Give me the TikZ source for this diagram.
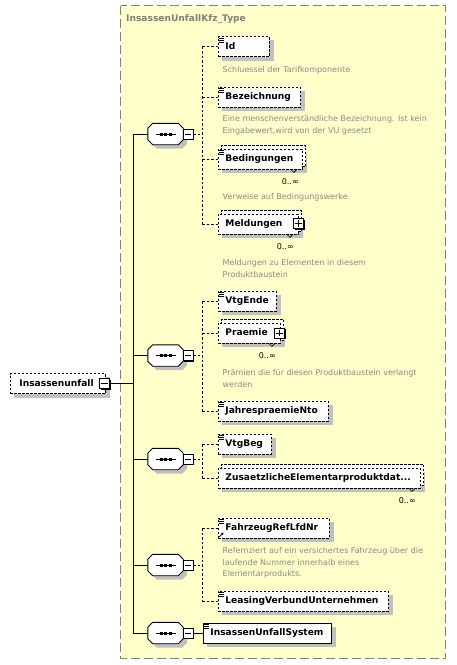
\documentclass[tikz,border=0pt]{standalone}
\usepackage{fontspec}
\setmainfont{DejaVu Sans}
\usetikzlibrary{arrows.meta}
\definecolor{typefill}{RGB}{255,255,202}
\definecolor{shadowgray}{RGB}{192,192,192}
\definecolor{descgray}{RGB}{138,138,138}
\definecolor{framegray}{RGB}{128,128,128}
\pgfdeclarelayer{yellowl}
\pgfdeclarelayer{shadowl}
\pgfdeclarelayer{backl}
\pgfsetlayers{yellowl,shadowl,backl,main}
\newcommand\namefont{\bfseries\fontsize{9.1}{11}\selectfont}
\newcommand\descfont{\fontsize{8}{11.8}\selectfont}
\tikzset{
  elembox/.style={draw, dash pattern=on 2.4pt off 1.6pt, line width=0.9pt, fill=white,
     minimum height=20pt, inner xsep=7pt, inner ysep=0pt, anchor=west, font=\namefont, align=left,
     text height=6.8pt, text depth=1.8pt,
     execute at begin node={\hyphenpenalty=10000\exhyphenpenalty=10000}},
  solidbox/.style={elembox, solid},
  backbox/.style={draw, dash pattern=on 2.4pt off 1.6pt, line width=0.9pt, fill=white},
  pmbox/.style={draw, line width=0.8pt, fill=white, minimum size=10pt, inner sep=0pt},
  seqframe/.style={draw=none, minimum width=35pt, minimum height=21pt, inner sep=0pt},
  conn/.style={dash pattern=on 2.5pt off 2pt, line width=0.8pt},
  link/.style={line width=0.9pt},
  desc/.style={anchor=north west, inner sep=0pt, font=\descfont, text=descgray, align=left},
  mult/.style={anchor=base east, inner sep=0pt, font=\fontsize{8}{10}\selectfont},
}
\newcommand\shadowof[1]{\begin{pgfonlayer}{shadowl}\fill[shadowgray] ([xshift=4pt,yshift=-4pt]#1.south west) rectangle ([xshift=4pt,yshift=-4pt]#1.north east);\end{pgfonlayer}}
\newcommand\backof[1]{\begin{pgfonlayer}{backl}\draw[backbox] ([xshift=3pt,yshift=3pt]#1.south west) rectangle ([xshift=3pt,yshift=3pt]#1.north east);\end{pgfonlayer}}
\newcommand\iconof[1]{\foreach \d in {1.8pt,3.8pt,5.8pt}{\draw[line width=0.7pt] ([xshift=0.5pt,yshift=-\d]#1.north west) -- ++(5,0);}}
\newcommand\tickof[1]{\draw[line width=0.6pt] ([xshift=-12pt]#1.south east) -- ([xshift=-9pt,yshift=-3pt]#1.south east) -- ([xshift=-6pt]#1.south east);}
\newcommand\pmminus[3]{\fill[shift={(#2,#3)}] (-4,-4) rectangle (6,6);
  \node[pmbox] (#1) at (#2,#3) {};
  \draw[line width=0.9pt] ([xshift=2pt]#1.west) -- ([xshift=-2pt]#1.east);}
\newcommand\pmplus[3]{\pmminus{#1}{#2}{#3}\draw[line width=0.9pt] ([yshift=-2pt]#1.north) -- ([yshift=2pt]#1.south);}
\newcommand\octpath[3]{([xshift={#2+5pt},yshift={#3}]#1.north west) -- ([xshift={#2-5pt},yshift={#3}]#1.north east) -- ([xshift={#2},yshift={#3-5pt}]#1.north east) -- ([xshift={#2},yshift={#3+5pt}]#1.south east) -- ([xshift={#2-5pt},yshift={#3}]#1.south east) -- ([xshift={#2+5pt},yshift={#3}]#1.south west) -- ([xshift={#2},yshift={#3+5pt}]#1.south west) -- ([xshift={#2},yshift={#3-5pt}]#1.north west) -- cycle}
\newcommand\seqgroup[3]{\node[seqframe] (#1) at (165.5,#3) {};
  \begin{pgfonlayer}{shadowl}\fill[shadowgray] \octpath{#1}{4pt}{-4pt};\end{pgfonlayer}
  \draw[link] (#1.west -| spinetop) -- (#1.west);
  \draw[link, fill=white] \octpath{#1}{0pt}{0pt};
  \draw[link] ([xshift=-10pt]#1.center) -- ([xshift=10pt]#1.center);
  \fill ([xshift=-6pt,yshift=-1.5pt]#1.center) rectangle ([xshift=-3pt,yshift=1.5pt]#1.center);
  \fill ([xshift=-1.5pt,yshift=-1.5pt]#1.center) rectangle ([xshift=1.5pt,yshift=1.5pt]#1.center);
  \fill ([xshift=3pt,yshift=-1.5pt]#1.center) rectangle ([xshift=6pt,yshift=1.5pt]#1.center);
  \pmminus{#2}{188}{#3}}
\begin{document}
\begin{tikzpicture}[x=1pt,y=-1pt]
\useasboundingbox (0,0) rectangle (456,665);
\begin{pgfonlayer}{yellowl}
\fill[white] (0,0) rectangle (456,665);
\draw[fill=typefill, draw=framegray, line width=1pt, dash pattern=on 9pt off 4pt] (120.5,5.5) rectangle (445.5,658.5);
\end{pgfonlayer}
\node[anchor=base west, inner sep=0pt, font=\namefont, text=framegray] (title) at (126,21.7) {InsassenUnfallKfz\_Type};

% root
\node[elembox, inner xsep=9pt, text width=77pt] (root) at (10,383.5) {Insassenunfall};
\shadowof{root}
\pmminus{rm}{104.5}{383.5}
\coordinate (spinetop) at (133,134);
\coordinate (spinebot) at (133,633);
\coordinate (jx) at (202,0);
\draw[link] (spinetop) -- (spinebot);
\draw[link] (rm.east) -- (rm.east -| spinetop);

% group 1
\seqgroup{s1}{m1}{134}
\node[elembox, text width=37pt] (id) at (218,46.5) {Id}; \shadowof{id}\iconof{id}
\node[desc] (iddesc) at (222.5,66) {Schluessel der Tarifkomponente};
\node[elembox, text width=68pt] (bez) at (218,97) {Bezeichnung}; \shadowof{bez}\iconof{bez}
\node[desc] (bezdesc) at (222.5,115) {Eine menschenverständliche Bezeichnung. Ist kein\\Eingabewert,wird von der VU gesetzt};
\node[elembox, text width=70pt] (bed) at (218,159) {Bedingungen}; \shadowof{bed}\backof{bed}\iconof{bed}\tickof{bed}
\node[mult] (bedmult) at ([xshift=-4pt,yshift=-15.5pt]bed.south east) {0..∞};
\node[desc] (beddesc) at (222.5,193) {Verweise auf Bedingungswerke};
\node[elembox, text width=66pt] (mel) at (218,224) {Meldungen}; \shadowof{mel}\backof{mel}\tickof{mel}
\pmplus{melp}{298.5}{223.5}
\node[mult] (melmult) at ([xshift=-5pt,yshift=-15.5pt]mel.south east) {0..∞};
\node[desc] (meldesc) at (222.5,259) {Meldungen zu Elementen in diesem\\Produktbaustein};
\draw[conn] (m1.east) -- (m1.east -| jx);
\draw[conn] (id.west -| jx) -- (mel.west -| jx);
\foreach \n in {id,bez,bed,mel}{\draw[conn] (\n.west -| jx) -- (\n.west);}

% group 2
\seqgroup{s2}{m2}{355.5}
\node[elembox, text width=44pt] (vte) at (218,301) {VtgEnde}; \shadowof{vte}\iconof{vte}
\node[elembox, text width=48pt] (pra) at (218,333) {Praemie}; \shadowof{pra}\backof{pra}\tickof{pra}
\pmplus{prap}{279.5}{333}
\node[mult] (pramult) at ([xshift=-5pt,yshift=-15.5pt]pra.south east) {0..∞};
\node[desc] (pradesc) at (222.5,369) {Prämien die für diesen Produktbaustein verlangt\\werden};
\node[elembox, text width=96pt] (jpn) at (218,411) {JahrespraemieNto}; \shadowof{jpn}\iconof{jpn}
\draw[conn] (m2.east) -- (m2.east -| jx);
\draw[conn] (vte.west -| jx) -- (jpn.west -| jx);
\foreach \n in {vte,pra,jpn}{\draw[conn] (\n.west -| jx) -- (\n.west);}

% group 3
\seqgroup{s3}{m3}{459}
\node[elembox, text width=39pt] (vtb) at (218,444) {VtgBeg}; \shadowof{vtb}\iconof{vtb}
\node[elembox, text width=188pt] (zus) at (218,478) {ZusaetzlicheElementarproduktdat...}; \shadowof{zus}\backof{zus}\tickof{zus}
\node[mult] (zusmult) at ([xshift=-5pt,yshift=-15.5pt]zus.south east) {0..∞};
\draw[conn] (m3.east) -- (m3.east -| jx);
\draw[conn] (vtb.west -| jx) -- (zus.west -| jx);
\foreach \n in {vtb,zus}{\draw[conn] (\n.west -| jx) -- (\n.west);}

% group 4
\seqgroup{s4}{m4}{565}
\node[elembox, text width=97pt] (fzr) at (218,528) {FahrzeugRefLfdNr}; \shadowof{fzr}\iconof{fzr}
\draw[line width=0.8pt, -{Stealth[length=2.5pt,width=3pt]}] ([xshift=1.2pt,yshift=1.5pt]fzr.south west) -- ([xshift=5.5pt,yshift=5.8pt]fzr.south west);
\node[desc] (fzrdesc) at (222.5,547) {Refernziert auf ein versichertes Fahrzeug über die\\laufende Nummer innerhalb eines\\Elementarprodukts.};
\node[elembox, text width=156pt] (lvu) at (218,601) {LeasingVerbundUnternehmen}; \shadowof{lvu}\iconof{lvu}
\draw[conn] (m4.east) -- (m4.east -| jx);
\draw[conn] (fzr.west -| jx) -- (lvu.west -| jx);
\foreach \n in {fzr,lvu}{\draw[conn] (\n.west -| jx) -- (\n.west);}

% group 5
\seqgroup{s5}{m5}{633}
\node[solidbox, text width=114pt] (ius) at (203,633) {InsassenUnfallSystem}; \shadowof{ius}\iconof{ius}
\draw[link] (m5.east) -- (ius.west);
\end{tikzpicture}
\end{document}
